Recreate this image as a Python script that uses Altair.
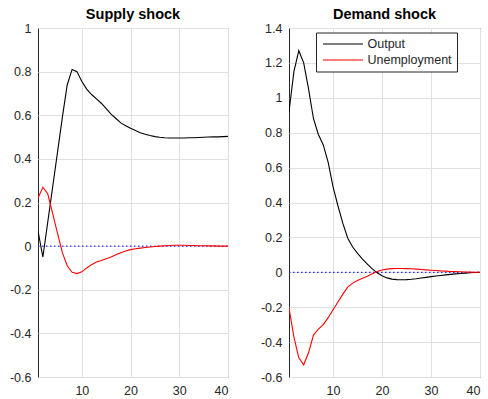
import altair as alt
import pandas as pd

# Impulse responses over 40 periods
periods = list(range(1, 41))

supply_output = [
    0.07, -0.05, 0.11, 0.27, 0.43, 0.59, 0.74, 0.81, 0.80, 0.755,
    0.72, 0.695, 0.675, 0.655, 0.63, 0.605, 0.585, 0.565, 0.552, 0.54,
    0.53, 0.52, 0.513, 0.507, 0.502, 0.499, 0.497, 0.496, 0.496, 0.496,
    0.496, 0.497, 0.497, 0.498, 0.499, 0.50, 0.501, 0.501, 0.502, 0.503,
]
supply_unemp = [
    0.22, 0.27, 0.24, 0.15, 0.06, -0.03, -0.09, -0.12, -0.126, -0.118,
    -0.10, -0.085, -0.073, -0.066, -0.058, -0.05, -0.04, -0.03, -0.022, -0.016,
    -0.012, -0.009, -0.006, -0.004, -0.002, 0.0, 0.002, 0.003, 0.004, 0.004,
    0.004, 0.003, 0.003, 0.002, 0.002, 0.001, 0.001, 0.0, 0.0, 0.0,
]
demand_output = [
    0.92, 1.15, 1.27, 1.20, 1.05, 0.88, 0.79, 0.73, 0.63, 0.49,
    0.38, 0.28, 0.195, 0.145, 0.108, 0.075, 0.047, 0.02, -0.003, -0.02,
    -0.032, -0.039, -0.042, -0.043, -0.042, -0.04, -0.037, -0.033, -0.029, -0.025,
    -0.021, -0.018, -0.015, -0.012, -0.009, -0.007, -0.005, -0.003, -0.001, 0.0,
]
demand_unemp = [
    -0.205, -0.37, -0.49, -0.53, -0.46, -0.36, -0.325, -0.30, -0.26, -0.215,
    -0.17, -0.125, -0.085, -0.062, -0.047, -0.034, -0.022, -0.008, 0.005, 0.013,
    0.018, 0.021, 0.022, 0.022, 0.021, 0.02, 0.018, 0.016, 0.014, 0.012,
    0.01, 0.008, 0.007, 0.005, 0.004, 0.003, 0.002, 0.001, 0.0, 0.0,
]

series_names = ["Output", "Unemployment"]
series_colors = ["#000000", "#ff0000"]
x_ticks = [10, 20, 30, 40]
supply_ticks = [-0.6, -0.4, -0.2, 0, 0.2, 0.4, 0.6, 0.8, 1]
demand_ticks = [-0.6, -0.4, -0.2, 0, 0.2, 0.4, 0.6, 0.8, 1, 1.2, 1.4]

FONT = "Liberation Sans"
INK = "#262626"
LABEL_EXPR = "'' + round(datum.value * 10) / 10"


def panel(title, output, unemp, y_domain, y_ticks, width, height, legend):
    df = pd.DataFrame({
        "t": periods * 2,
        "value": output + unemp,
        "series": ["Output"] * len(periods) + ["Unemployment"] * len(periods),
    })
    zero_df = pd.DataFrame({"t": [periods[0], periods[-1]], "value": [0, 0]})

    x = alt.X("t:Q",
              scale=alt.Scale(domain=[1, 40], nice=False, zero=False),
              axis=alt.Axis(values=x_ticks, title=None, labelPadding=7))
    y = alt.Y("value:Q",
              scale=alt.Scale(domain=y_domain, nice=False, zero=False),
              axis=alt.Axis(values=y_ticks, title=None, labelExpr=LABEL_EXPR,
                            labelPadding=7))

    zero = alt.Chart(zero_df).mark_line(
        color="#0000ff", strokeDash=[1.5, 2.5], strokeWidth=1
    ).encode(x=x, y=y)

    lines = alt.Chart(df).mark_line(strokeWidth=1.1, clip=True).encode(
        x=x, y=y,
        color=alt.Color("series:N",
                        scale=alt.Scale(domain=series_names, range=series_colors),
                        legend=legend),
    )

    return alt.layer(zero, lines).properties(
        width=width, height=height,
        title=alt.TitleParams(title, fontSize=14.5, fontWeight="bold", font=FONT,
                              color="#000000", offset=0),
    )


# legend key: a flat 40px stroke drawn from a custom path
legend = alt.Legend(
    title=None, orient="none", legendX=27, legendY=4.5,
    fillColor="#ffffff", strokeColor=INK, padding=5,
    symbolType="M-3.4,0H3.4", symbolSize=139, symbolStrokeWidth=1.2,
    symbolOffset=15.5, labelOffset=18, rowPadding=3,
    labelFont=FONT, labelFontSize=12.5, labelColor=INK,
)

left = panel("Supply shock", supply_output, supply_unemp, [-0.6, 1], supply_ticks,
             190, 349, None)
right = panel("Demand shock", demand_output, demand_unemp, [-0.6, 1.4], demand_ticks,
              191, 349, legend)

chart = alt.hconcat(left, right, spacing=61, bounds="flush").resolve_legend(
    color="independent"
).properties(
    padding={"left": 8, "top": 6, "right": 5, "bottom": 0},
    background="#ffffff",
).configure_view(
    stroke=INK, strokeWidth=1
).configure_axis(
    labelFont=FONT, labelFontSize=12.5, labelColor=INK,
    gridColor="#e0e0e0", gridWidth=1, domain=False, tickSize=0,
)

chart.save("out.html", embed_options={"renderer": "svg", "actions": False})
